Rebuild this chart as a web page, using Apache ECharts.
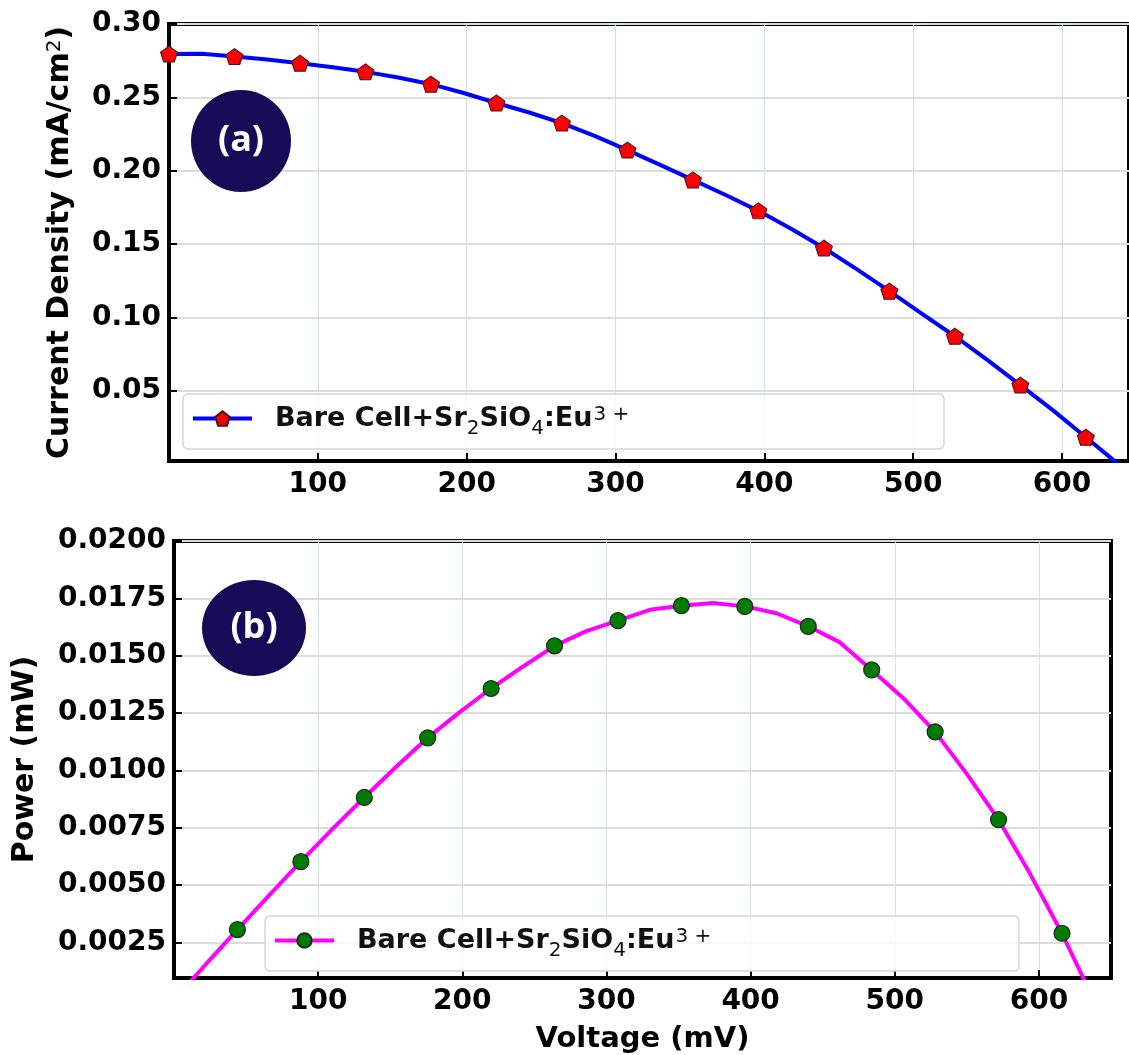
<!DOCTYPE html>
<html>
<head>
<meta charset="utf-8">
<script src="https://cdn.jsdelivr.net/npm/echarts@6/dist/echarts.min.js"></script>
<style>
html,body{margin:0;padding:0;background:#fff;}
#chart{width:1129px;height:1055px;}
</style>
</head>
<body>
<div id="chart"></div>
<script>
// ---- data ----
const voltage = [0,22,44,66,88,110,132,154,176,198,220,242,264,286,308,330,352,374,396,418,440,462,484,506,528,550,572,594,616,638];
const currentDensity = [0.2795,0.2797,0.2778,0.2758,0.2733,0.2706,0.2674,0.2635,0.2590,0.2530,0.2462,0.2397,0.2325,0.2238,0.2141,0.2040,0.1938,0.1835,0.1727,0.1605,0.1474,0.1330,0.1180,0.1025,0.0873,0.0710,0.0540,0.0368,0.0185,0.0000];
const power = [0.0000,0.00154,0.00306,0.00455,0.00602,0.00745,0.00882,0.01015,0.01142,0.01253,0.01357,0.01452,0.01543,0.01607,0.01653,0.01700,0.01718,0.01730,0.01715,0.01685,0.01628,0.01558,0.01438,0.01315,0.01168,0.00985,0.00785,0.00548,0.00290,0.0000];
const xTicks = [100,200,300,400,500,600];
const yTicksA = [0.05,0.10,0.15,0.20,0.25,0.30];
const yTicksB = [0.0025,0.0050,0.0075,0.0100,0.0125,0.0150,0.0175,0.0200];
const legendLabel = 'Bare Cell+Sr{sub|2}SiO{sub|4}:Eu{sup|3 +}';

const FONT = 'DejaVu Sans';
const PENT = 'path://M0,-10 L9.51,-3.09 L5.88,8.09 L-5.88,8.09 L-9.51,-3.09 Z';

const labelStyle = {fontFamily: FONT, fontWeight: 'bold', fontSize: 28, color: '#000'};
const richText = {
  sub: {fontFamily: FONT, fontWeight: 'normal', fontSize: 20, verticalAlign: 'bottom', lineHeight: 22, padding: [0,0,-7,0]},
  sup: {fontFamily: FONT, fontWeight: 'normal', fontSize: 20, verticalAlign: 'top', lineHeight: 18, padding: [0,0,0,1]}
};

function xAxisCfg(gi, max) {
  return {
    gridIndex: gi, type: 'value', min: 0, max: max,
    axisLine: {show: true, lineStyle: {color: '#000', width: 4}},
    axisTick: {show: true, inside: true, length: 8, lineStyle: {color: '#000', width: 2}, customValues: xTicks},
    axisLabel: Object.assign({margin: 10, customValues: xTicks, formatter: v => String(Math.round(v))}, labelStyle),
    splitLine: {show: true, lineStyle: {color: '#cfe4f1', width: 1}}
  };
}
function yAxisCfg(gi, min, max, ticks, dec) {
  return {
    gridIndex: gi, type: 'value', min: min, max: max,
    axisLine: {show: true, lineStyle: {color: '#000', width: 4}},
    axisTick: {show: true, inside: true, length: 8, lineStyle: {color: '#000', width: 2}, customValues: ticks},
    axisLabel: Object.assign({margin: 8, customValues: ticks, formatter: v => v.toFixed(dec)}, labelStyle),
    splitLine: {show: true, lineStyle: {color: '#dcdcdc', width: 2}}
  };
}

const xa0 = xAxisCfg(0, 645);
const xa1 = xAxisCfg(1, 650);
xa1.name = 'Voltage (mV)';
xa1.nameLocation = 'middle';
xa1.nameGap = 47;
xa1.nameTextStyle = {fontFamily: FONT, fontWeight: 'bold', fontSize: 29, color: '#000'};

const ya0 = yAxisCfg(0, 0.0023, 0.30, yTicksA, 2);
ya0.name = 'Current Density (mA/cm{sup|2})';
ya0.nameLocation = 'middle';
ya0.nameGap = 94;
ya0.nameTextStyle = {fontFamily: FONT, fontWeight: 'bold', fontSize: 30, color: '#000', rich: {sup: {fontFamily: FONT, fontWeight: 'normal', fontSize: 20, verticalAlign: 'top', lineHeight: 16}}};

const ya1 = yAxisCfg(1, 0.00095, 0.0200, yTicksB, 4);
ya1.name = 'Power (mW)';
ya1.nameLocation = 'middle';
ya1.nameGap = 134;
ya1.nameTextStyle = {fontFamily: FONT, fontWeight: 'bold', fontSize: 30, color: '#000'};

const jvData = voltage.map((v, i) => ({value: [v, currentDensity[i]], symbol: i % 2 === 0 ? PENT : 'none'}));
const pvData = voltage.map((v, i) => ({value: [v, power[i]], symbol: i % 2 === 0 ? 'circle' : 'none'}));

function legendCfg(name, left, top, color) {
  return {
    show: true, data: [name], left: left, top: top, padding: 0, z: 6,
    itemWidth: 59, itemHeight: 18, backgroundColor: 'transparent',
    lineStyle: {width: 4, color: color},
    formatter: () => legendLabel,
    textStyle: {fontFamily: FONT, fontWeight: 'bold', fontSize: 27, color: '#111', padding: [0,0,0,18], rich: richText}
  };
}

const option = {
  animation: false,
  backgroundColor: '#fff',
  grid: [
    {left: 169, top: 24, width: 962, height: 437, show: true, borderColor: '#000', borderWidth: 4, backgroundColor: 'transparent'},
    {left: 174, top: 541, width: 937, height: 443, show: true, borderColor: '#000', borderWidth: 4, backgroundColor: 'transparent'}
  ],
  xAxis: [xa0, xa1],
  yAxis: [ya0, ya1],
  legend: [legendCfg('J-V', 191, 405, '#0000ff'), legendCfg('P-V', 273, 927, '#ff00ff')],
  graphic: [
    {type: 'rect', x: 183, y: 394, shape: {x: 0, y: 0, width: 761, height: 55, r: 5}, style: {fill: 'rgba(255,255,255,0.8)', stroke: '#d6d6d6', lineWidth: 1.5}, z: 3},
    {type: 'rect', x: 265, y: 916, shape: {x: 0, y: 0, width: 754, height: 55, r: 5}, style: {fill: 'rgba(255,255,255,0.8)', stroke: '#d6d6d6', lineWidth: 1.5}, z: 3},
    {type: 'ellipse', shape: {cx: 241, cy: 141, rx: 50, ry: 51}, style: {fill: '#170b57'}, z: 3},
    {type: 'text', x: 241, y: 141, style: {text: '(a)', fill: '#fff', font: 'bold 36px "Open Sans"', align: 'center', verticalAlign: 'middle'}, z: 4},
    {type: 'ellipse', shape: {cx: 254, cy: 628, rx: 52, ry: 48}, style: {fill: '#170b57'}, z: 3},
    {type: 'text', x: 254, y: 628, style: {text: '(b)', fill: '#fff', font: 'bold 36px "Open Sans"', align: 'center', verticalAlign: 'middle'}, z: 4}
  ],
  series: [
    {
      name: 'J-V', type: 'line', xAxisIndex: 0, yAxisIndex: 0, data: jvData,
      symbol: PENT, symbolSize: [17, 16], showSymbol: true, showAllSymbol: true, clip: true,
      lineStyle: {color: '#0000ff', width: 4},
      itemStyle: {color: '#ff0000', borderColor: '#3a1a1a', borderWidth: 1}
    },
    {
      name: 'P-V', type: 'line', xAxisIndex: 1, yAxisIndex: 1, data: pvData,
      symbol: 'circle', symbolSize: 16, showSymbol: true, showAllSymbol: true, clip: true,
      lineStyle: {color: '#ff00ff', width: 4},
      itemStyle: {color: '#007a00', borderColor: '#1a2a1a', borderWidth: 1.2}
    }
  ]
};

const chart = echarts.init(document.getElementById('chart'), null, {renderer: 'canvas'});
chart.setOption(option);
</script>
</body>
</html>
